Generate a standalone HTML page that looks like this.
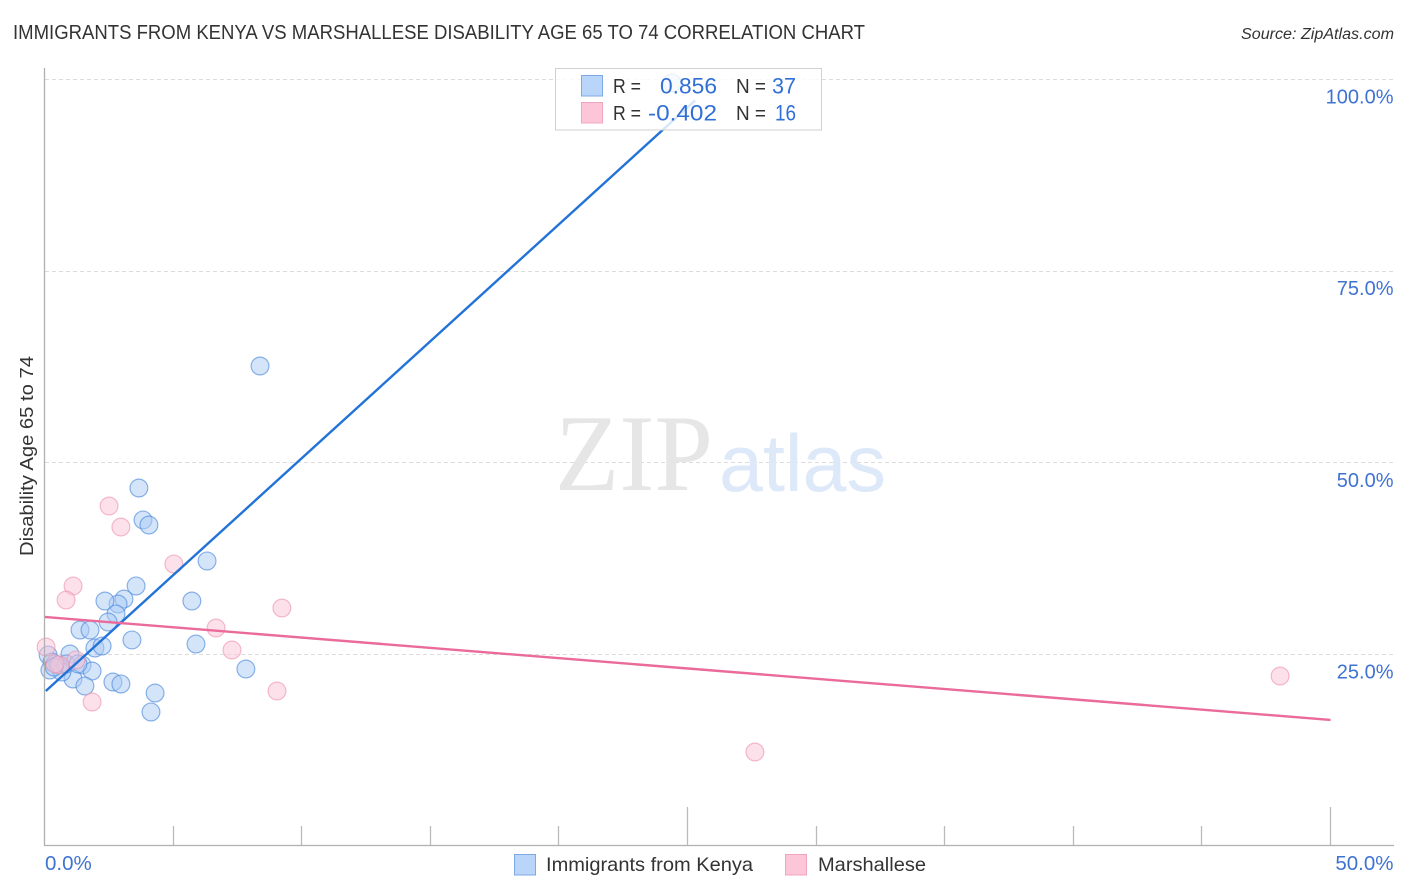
<!DOCTYPE html>
<html lang="en">
<head>
<meta charset="utf-8">
<title>Immigrants from Kenya vs Marshallese Disability Age 65 to 74 Correlation Chart</title>
<style>
html,body{margin:0;padding:0;background:#fff;width:1406px;height:892px;overflow:hidden}
svg{display:block;font-family:"Liberation Sans",sans-serif}
</style>
</head>
<body>
<svg id="chart" xmlns="http://www.w3.org/2000/svg" width="1406" height="892" viewBox="0 0 1406 892">
  <text x="13" y="39" font-size="20" fill="#333" textLength="852" lengthAdjust="spacingAndGlyphs">IMMIGRANTS FROM KENYA VS MARSHALLESE DISABILITY AGE 65 TO 74 CORRELATION CHART</text>
  <text x="1241" y="39" font-size="15.5" font-style="italic" fill="#333" textLength="153" lengthAdjust="spacingAndGlyphs">Source: ZipAtlas.com</text>

  <g id="grid"></g>

  <g>
    <text x="555" y="490" font-family="'Liberation Serif',serif" font-size="109" fill="#e6e6e6" textLength="158" lengthAdjust="spacingAndGlyphs">ZIP</text>
    <text x="719" y="491" font-size="81" fill="#dde9f8" textLength="167" lengthAdjust="spacingAndGlyphs">atlas</text>
  </g>

  <g id="points"></g>
  <g id="trends"></g>
  <g id="axes"></g>
  <g id="tick-labels"></g>

  <text transform="translate(33,556) rotate(-90)" font-size="18" fill="#333" textLength="200" lengthAdjust="spacingAndGlyphs">Disability Age 65 to 74</text>

  <g>
    <rect x="555.5" y="68.5" width="266" height="61.5" fill="#fff" fill-opacity="0.82" stroke="#d0d0d0"/>
    <rect x="581.5" y="75.5" width="21" height="20.5" fill="#b9d5fa" stroke="#7fa8e6"/>
    <rect x="581.5" y="102.5" width="21" height="20.5" fill="#fcc6d8" stroke="#f0a5bf"/>
    <text x="613" y="93" font-size="20" fill="#333" textLength="28" lengthAdjust="spacingAndGlyphs">R =</text>
    <text x="660" y="93.5" font-size="22.5" fill="#2f6fd6" textLength="57" lengthAdjust="spacingAndGlyphs">0.856</text>
    <text x="736" y="93" font-size="20" fill="#333" textLength="30" lengthAdjust="spacingAndGlyphs">N =</text>
    <text x="772" y="93.5" font-size="22" fill="#2f6fd6" textLength="24" lengthAdjust="spacingAndGlyphs">37</text>
    <text x="613" y="120" font-size="20" fill="#333" textLength="28" lengthAdjust="spacingAndGlyphs">R =</text>
    <text x="648" y="120.5" font-size="22.5" fill="#2f6fd6" textLength="69" lengthAdjust="spacingAndGlyphs">-0.402</text>
    <text x="736" y="120" font-size="20" fill="#333" textLength="30" lengthAdjust="spacingAndGlyphs">N =</text>
    <text x="775" y="120.5" font-size="22" fill="#2f6fd6" textLength="21" lengthAdjust="spacingAndGlyphs">16</text>
  </g>

  <g>
    <rect x="514.5" y="854.5" width="21" height="20.5" fill="#b9d5fa" stroke="#7fa8e6"/>
    <text x="546" y="871" font-size="19.5" fill="#333" textLength="207" lengthAdjust="spacingAndGlyphs">Immigrants from Kenya</text>
    <rect x="785.5" y="854.5" width="21" height="20.5" fill="#fcc6d8" stroke="#f0a5bf"/>
    <text x="818" y="871" font-size="19.5" fill="#333" textLength="108" lengthAdjust="spacingAndGlyphs">Marshallese</text>
  </g>
</svg>
<script>
const kenyaX = [8.38,3.67,3.83,4.06,6.32,3.56,3.09,2.86,2.35,5.73,2.78,2.47,1.38,1.77,3.40,5.89,1.96,2.24,0.99,1.46,1.85,7.83,1.11,1.57,2.66,2.97,4.30,4.14,0.14,0.29,0.21,0.52,0.68,0.84,0.37,1.30,24.40];
const kenyaY = [62.56,46.65,42.48,41.82,37.13,33.87,32.17,31.52,31.91,31.91,30.22,29.17,28.13,28.13,26.83,26.30,25.78,26.04,25.00,23.57,22.78,23.04,21.74,20.83,21.35,21.09,19.91,17.44,24.87,23.96,22.91,23.57,22.65,23.70,23.30,23.70,99.47];
const marshalleseX = [2.51,2.97,1.11,0.84,5.03,9.23,6.67,7.29,9.04,1.85,27.62,48.04,0.06,1.22,0.60,0.41];
const marshalleseY = [44.30,41.56,33.87,32.04,36.74,31.00,28.39,25.52,20.17,18.74,12.22,22.13,25.91,24.22,23.57,23.70];
const kenyaTrendX = [0.05,25.3];
const kenyaTrendY = [20.17,97.2];
const marshalleseTrendX = [0,50];
const marshalleseTrendY = [29.83,16.4];
const yTicks = [25,50,75,100];
const yTickLabels = ['25.0%','50.0%','75.0%','100.0%'];
const xTicks = [0,5,10,15,20,25,30,35,40,45,50];
const xMajorTicks = [25,50];
const xEdgeTicks = [0,50];
const xEdgeLabels = ['0.0%','50.0%'];

const NS = 'http://www.w3.org/2000/svg';
function sx(v){ return 44.5 + v * 25.72; }
function sy(v){ return 845.7 - v * 7.668; }
function make(tag, parent){
  const el = document.createElementNS(NS, tag);
  parent.appendChild(el);
  return el;
}

const grid = document.getElementById('grid');
yTicks.forEach(function(t){
  const l = make('line', grid);
  
  
  l.setAttribute('x1', 45);
  l.setAttribute('x2', 1393);
  l.setAttribute('y1', Math.round(sy(t)) + 0.5);
  l.setAttribute('y2', Math.round(sy(t)) + 0.5);
  l.setAttribute('stroke', '#dcdcdc');
  l.setAttribute('stroke-dasharray', '4 3');
});

const points = document.getElementById('points');
kenyaX.forEach(function(x, i){
  const c = make('circle', points);
  
  
  c.setAttribute('cx', sx(x));
  c.setAttribute('cy', sy(kenyaY[i]));
  c.setAttribute('r', 8.9);
  c.setAttribute('fill', '#a9cbf6');
  c.setAttribute('fill-opacity', '0.5');
  c.setAttribute('stroke', '#4f8bdc');
  c.setAttribute('stroke-opacity', '0.65');
  c.setAttribute('stroke-width', '1.2');
});
marshalleseX.forEach(function(x, i){
  const c = make('circle', points);
  
  
  c.setAttribute('cx', sx(x));
  c.setAttribute('cy', sy(marshalleseY[i]));
  c.setAttribute('r', 8.9);
  c.setAttribute('fill', '#fbc4d6');
  c.setAttribute('fill-opacity', '0.5');
  c.setAttribute('stroke', '#ec8fae');
  c.setAttribute('stroke-opacity', '0.6');
  c.setAttribute('stroke-width', '1.2');
});

const trends = document.getElementById('trends');
const kenyaLine = make('line', trends);


kenyaLine.setAttribute('x1', sx(kenyaTrendX[0]));
kenyaLine.setAttribute('y1', sy(kenyaTrendY[0]));
kenyaLine.setAttribute('x2', sx(kenyaTrendX[1]));
kenyaLine.setAttribute('y2', sy(kenyaTrendY[1]));
kenyaLine.setAttribute('stroke', '#2273d8');
kenyaLine.setAttribute('stroke-width', '2.4');
const marshalleseLine = make('line', trends);


marshalleseLine.setAttribute('x1', sx(marshalleseTrendX[0]));
marshalleseLine.setAttribute('y1', sy(marshalleseTrendY[0]));
marshalleseLine.setAttribute('x2', sx(marshalleseTrendX[1]));
marshalleseLine.setAttribute('y2', sy(marshalleseTrendY[1]));
marshalleseLine.setAttribute('stroke', '#ea6a9a');
marshalleseLine.setAttribute('stroke-width', '2.4');

const axes = document.getElementById('axes');
const yAxis = make('line', axes);


yAxis.setAttribute('x1', 44.5);
yAxis.setAttribute('x2', 44.5);
yAxis.setAttribute('y1', 68);
yAxis.setAttribute('y2', 846);
yAxis.setAttribute('stroke', '#b0b0b0');
yAxis.setAttribute('stroke-width', '1.3');
const xAxis = make('line', axes);


xAxis.setAttribute('x1', 44);
xAxis.setAttribute('x2', 1394);
xAxis.setAttribute('y1', 845.5);
xAxis.setAttribute('y2', 845.5);
xAxis.setAttribute('stroke', '#b0b0b0');
xAxis.setAttribute('stroke-width', '1.3');
xTicks.forEach(function(t){
  if (t === 0) return;
  const tick = make('line', axes);
  
  
  const px = Math.floor(sx(t)) + 0.5;
  tick.setAttribute('x1', px);
  tick.setAttribute('x2', px);
  tick.setAttribute('y1', xMajorTicks.indexOf(t) >= 0 ? 807 : 826);
  tick.setAttribute('y2', 845);
  tick.setAttribute('stroke', '#bbbbbb');
  tick.setAttribute('stroke-width', '1.3');
});

const labels = document.getElementById('tick-labels');
yTicks.forEach(function(t, i){
  const txt = make('text', labels);
  
  
  txt.setAttribute('x', 1393.5);
  txt.setAttribute('y', sy(t) + 24.5);
  txt.setAttribute('text-anchor', 'end');
  txt.setAttribute('font-size', '20');
  txt.setAttribute('fill', '#3f73d2');
  txt.textContent = yTickLabels[i];
});
xEdgeTicks.forEach(function(t, i){
  const txt = make('text', labels);
  
  
  txt.setAttribute('x', i === 0 ? sx(t) + 0.5 : 1393.5);
  txt.setAttribute('y', 870);
  txt.setAttribute('text-anchor', i === 0 ? 'start' : 'end');
  txt.setAttribute('font-size', '20.5');
  txt.setAttribute('fill', '#3f73d2');
  txt.textContent = xEdgeLabels[i];
});
</script>
</body>
</html>
